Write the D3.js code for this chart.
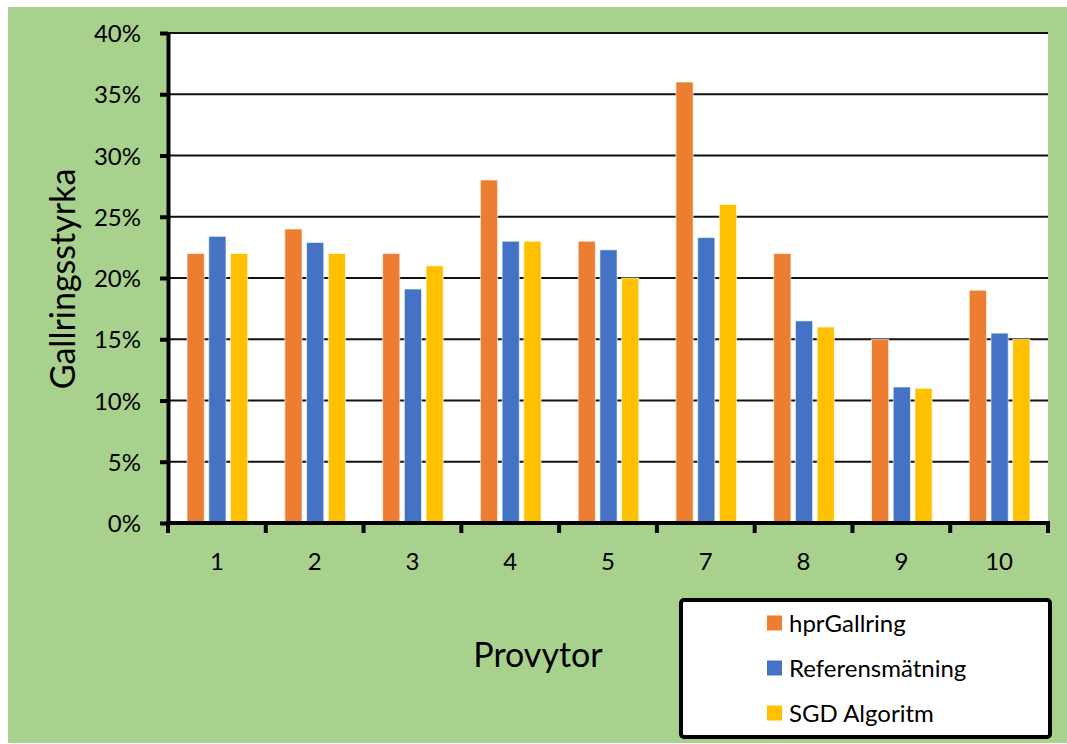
<!DOCTYPE html>
<html>
<head>
<meta charset="utf-8">
<script src="https://cdn.jsdelivr.net/npm/d3@7"></script>
<style>
  body { margin: 0; background: #fff; }
  text { font-family: Lato, "Open Sans", sans-serif; fill: #000; }
</style>
</head>
<body>
<div id="chart"></div>
<script>
// data
const categories = ["1", "2", "3", "4", "5", "7", "8", "9", "10"];
const seriesNames = ["hprGallring", "Referensmätning", "SGD Algoritm"];
const hprGallring = [22, 24, 22, 28, 23, 36, 22, 15, 19];
const referensmatning = [23.4, 22.9, 19.1, 23.0, 22.3, 23.3, 16.5, 11.1, 15.5];
const sgdAlgoritm = [22, 22, 21, 23, 20, 26, 16, 11, 15];
const yTicks = [0, 5, 10, 15, 20, 25, 30, 35, 40];
const colors = ["#ED7D31", "#4472C4", "#FFC000"];

const W = 1067, H = 744;
const plot = { left: 168, right: 1048, top: 33, bottom: 523 };

const svg = d3.select("#chart")
    .append("svg")
    .attr("width", W)
    .attr("height", H);

// green chart area
svg.append("rect")
    .attr("x", 8).attr("y", 7)
    .attr("width", W - 8).attr("height", H - 8)
    .attr("fill", "#A9D18E");

// white plot area
svg.append("rect")
    .attr("x", plot.left).attr("y", plot.top)
    .attr("width", plot.right - plot.left).attr("height", plot.bottom - plot.top)
    .attr("fill", "#fff");

const x = d3.scaleBand()
    .domain(categories)
    .range([plot.left, plot.right])
    .padding(0);

const y = d3.scaleLinear()
    .domain([0, 40])
    .range([plot.bottom, plot.top]);

const bw = x.bandwidth();
const xSub = d3.scaleBand()
    .domain(seriesNames)
    .range([bw * 0.195, bw * 0.815])
    .paddingInner(0.21);

const color = d3.scaleOrdinal().domain(seriesNames).range(colors);

// gridlines
svg.append("g")
    .selectAll("line")
    .data(yTicks.filter(d => d > 0))
    .join("line")
    .attr("x1", plot.left).attr("x2", plot.right)
    .attr("y1", d => y(d)).attr("y2", d => y(d))
    .attr("stroke", "#111")
    .attr("stroke-width", 2);

// bars
const rows = categories.map((c, i) => ({
    cat: c,
    values: [hprGallring[i], referensmatning[i], sgdAlgoritm[i]]
}));

svg.append("g")
    .selectAll("g")
    .data(rows)
    .join("g")
    .attr("transform", d => `translate(${x(d.cat)},0)`)
    .selectAll("rect")
    .data(d => seriesNames.map((k, j) => ({ key: k, value: d.values[j] })))
    .join("rect")
    .attr("x", d => xSub(d.key))
    .attr("y", d => y(d.value))
    .attr("width", xSub.bandwidth())
    .attr("height", d => plot.bottom - y(d.value))
    .attr("fill", d => color(d.key))
    .attr("stroke", "rgba(255,255,255,0.6)")
    .attr("stroke-width", 1);

// y axis
const yAxis = svg.append("g")
    .attr("transform", `translate(${plot.left},0)`)
    .call(d3.axisLeft(y).tickValues(yTicks).tickSize(8).tickSizeOuter(0).tickFormat(d => d + "%"));
yAxis.select(".domain").attr("stroke", "#000").attr("stroke-width", 4);
yAxis.selectAll(".tick line").attr("stroke", "#000").attr("stroke-width", 4);
yAxis.selectAll(".tick text")
    .attr("x", -27)
    .attr("dy", "0.36em")
    .style("font-size", "24px");

// x axis: labels at band centres, ticks at band edges
const xAxis = svg.append("g")
    .attr("transform", `translate(0,${plot.bottom})`)
    .call(d3.axisBottom(x).tickSize(0).tickSizeOuter(0));
xAxis.select(".domain").remove();
xAxis.selectAll(".tick text")
    .attr("y", 38)
    .attr("dy", "0.36em")
    .style("font-size", "24px");

svg.append("line")
    .attr("x1", plot.left - 2).attr("x2", plot.right + 2)
    .attr("y1", plot.bottom).attr("y2", plot.bottom)
    .attr("stroke", "#000").attr("stroke-width", 4);

svg.append("g")
    .selectAll("line")
    .data(categories.concat(["end"]))
    .join("line")
    .attr("x1", (d, i) => i < categories.length ? x(d) : x(categories[categories.length - 1]) + bw)
    .attr("x2", (d, i) => i < categories.length ? x(d) : x(categories[categories.length - 1]) + bw)
    .attr("y1", plot.bottom).attr("y2", plot.bottom + 10)
    .attr("stroke", "#000").attr("stroke-width", 4);

// axis titles
svg.append("text")
    .attr("transform", `translate(${63},${279}) rotate(-90)`)
    .attr("text-anchor", "middle")
    .attr("dy", "0.36em")
    .style("font-size", "34px")
    .text("Gallringsstyrka");

svg.append("text")
    .attr("x", 538).attr("y", 667)
    .attr("text-anchor", "middle")
    .style("font-size", "34px")
    .text("Provytor");

// legend
const legend = svg.append("g");
legend.append("rect")
    .attr("x", 681).attr("y", 600)
    .attr("width", 369).attr("height", 137)
    .attr("rx", 3)
    .attr("fill", "#fff")
    .attr("stroke", "#000")
    .attr("stroke-width", 4);

const legY = d3.scalePoint().domain(seriesNames).range([623, 713]);
const item = legend.selectAll("g.item")
    .data(seriesNames)
    .join("g")
    .attr("class", "item")
    .attr("transform", d => `translate(767,${legY(d)})`);
item.append("rect")
    .attr("x", 0).attr("y", -7.5)
    .attr("width", 15).attr("height", 15)
    .attr("fill", d => color(d));
item.append("text")
    .attr("x", 22)
    .attr("dy", "0.36em")
    .style("font-size", "24px")
    .text(d => d);
</script>
</body>
</html>
